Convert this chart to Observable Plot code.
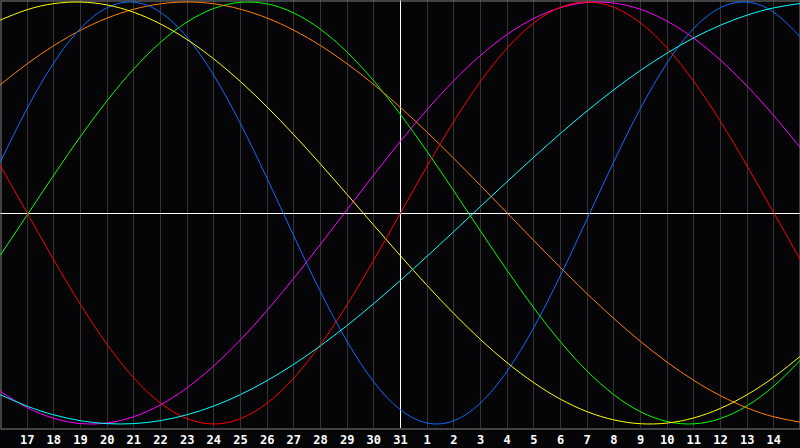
<!DOCTYPE html>
<html><head><meta charset="utf-8">
<script src="https://cdn.jsdelivr.net/npm/d3@7"></script>
<script src="https://cdn.jsdelivr.net/npm/@observablehq/plot@0.6"></script>
<style>html,body{margin:0;padding:0;background:#050508;overflow:hidden;}</style>
</head><body><div id="chart"></div>
<script>
// Day labels for each column (index 0..30)
const dayLabels = [16,17,18,19,20,21,22,23,24,25,26,27,28,29,30,31,1,2,3,4,5,6,7,8,9,10,11,12,13,14,15];
const todayIndex = 15;

// Values, one per day, scale -1..1
const physical = [0.2434,0.4961,0.7119,0.8751,0.9732,0.9992,0.9511,0.8324,0.6522,0.4232,0.1631,-0.1090,-0.3732,-0.6096,-0.8010,-0.9327,-0.9954,-0.9843,-0.9001,-0.7492,-0.5427,-0.2960,-0.0273,0.2434,0.4961,0.7119,0.8751,0.9732,0.9992,0.9511,0.8324];
const emotional = [0.2225,0,-0.2225,-0.4339,-0.6235,-0.7818,-0.9010,-0.9749,-1,-0.9749,-0.9010,-0.7818,-0.6235,-0.4339,-0.2225,0,0.2225,0.4339,0.6235,0.7818,0.9010,0.9749,1,0.9749,0.9010,0.7818,0.6235,0.4339,0.2225,0,-0.2225];
const intellectual = [-0.1986,-0.0095,0.1799,0.3628,0.5326,0.6832,0.8090,0.9056,0.9695,0.9984,0.9911,0.9480,0.8707,0.7621,0.6256,0.4667,0.2909,0.1045,-0.0856,-0.2726,-0.4498,-0.6107,-0.7494,-0.8612,-0.9418,-0.9884,-0.9993,-0.9740,-0.9135,-0.8200,-0.6969];
const intuitive = [-0.8461,-0.9222,-0.9733,-0.9978,-0.9951,-0.9652,-0.9090,-0.8281,-0.7242,-0.6010,-0.4613,-0.3090,-0.1483,0.0165,0.1809,0.3403,0.4904,0.6272,0.7469,0.8461,0.9222,0.9733,0.9978,0.9951,0.9652,0.9090,0.8281,0.7242,0.6010,0.4613,0.3090];
const aesthetic = [0.9146,0.9637,0.9923,0.9998,0.9859,0.9511,0.8959,0.8217,0.7298,0.6227,0.5021,0.3709,0.2318,0.0875,-0.0584,-0.2031,-0.3435,-0.4767,-0.5995,-0.7097,-0.8045,-0.8826,-0.9416,-0.9806,-0.9987,-0.9955,-0.9711,-0.9259,-0.8611,-0.7780,-0.6782];
const awareness = [0.6088,0.7071,0.7934,0.8660,0.9239,0.9659,0.9914,1,0.9914,0.9659,0.9239,0.8660,0.7934,0.7071,0.6088,0.5,0.3827,0.2588,0.1305,0,-0.1305,-0.2588,-0.3827,-0.5,-0.6088,-0.7071,-0.7934,-0.8660,-0.9239,-0.9659,-0.9914];
const spiritual = [-0.8616,-0.9156,-0.9568,-0.9845,-0.9983,-0.9982,-0.9840,-0.9560,-0.9147,-0.8605,-0.7942,-0.7167,-0.6292,-0.5329,-0.4289,-0.3192,-0.2048,-0.0877,0.0308,0.1488,0.2647,0.3769,0.4839,0.5840,0.6758,0.7580,0.8301,0.8903,0.9379,0.9723,0.9931];

const seriesNames = ["intuitive","intellectual","awareness","physical","aesthetic","emotional","spiritual"];
const seriesValues = [intuitive, intellectual, awareness, physical, aesthetic, emotional, spiritual];
const seriesColors = ["#ff00ff","#00ff00","#ff8000","#0a6cff","#ffff00","#ff0000","#00ffff"];

const tickIdx = d3.range(1, 30);
const gridIdx = tickIdx.filter(i => i !== todayIndex);

const chart = Plot.plot({
  width: 800, height: 448,
  marginLeft: 0, marginRight: 0, marginTop: 1.5, marginBottom: 24.5,
  x: {domain: [0, 30], axis: null},
  y: {domain: [-1, 1], axis: null},
  style: {background: "#050508", color: "white", overflow: "visible"},
  marks: [
    Plot.ruleX(gridIdx, {stroke: "#343434", insetTop: -1.5, insetBottom: -4.5, shapeRendering: "crispEdges"}),
    Plot.ruleX([todayIndex], {stroke: "white", insetTop: -1.5, insetBottom: -4.5, shapeRendering: "crispEdges"}),
    Plot.ruleY([0], {stroke: "white", shapeRendering: "crispEdges"}),
    Plot.frame({stroke: "#808080", insetLeft: 0.5, insetRight: 0.5, insetTop: -1, insetBottom: -5}),
    ...seriesValues.map((vals, k) => Plot.line(vals, {x: (d, i) => i, y: d => d, stroke: seriesColors[k], strokeWidth: 1, curve: "natural"})),
    Plot.axisX(tickIdx, {tickSize: 0, tickPadding: 11, tickFormat: i => dayLabels[i], fill: "white", fontSize: 12, fontWeight: "bold", fontFamily: "DejaVu Sans Mono"})
  ]
});
document.getElementById("chart").appendChild(chart);
</script>
</body></html>
